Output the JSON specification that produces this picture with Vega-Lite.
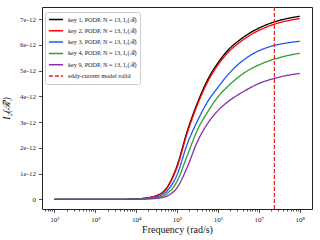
{
  "$schema": "https://vega.github.io/schema/vega-lite/v6.json",
  "autosize": "none",
  "width": 270,
  "height": 202,
  "padding": {"left": 42, "top": 7, "right": 8, "bottom": 31},
  "background": "white",
  "config": {
    "font": "Liberation Serif",
    "view": {"stroke": "#222", "strokeWidth": 1},
    "axis": {"grid": false, "domain": false, "tickColor": "#222", "labelColor": "#222", "titleColor": "#111", "labelFont": "Liberation Serif", "titleFont": "Liberation Serif", "labelFontSize": 7, "titleFontWeight": "normal"}
  },
  "datasets": {
    "curves": [
      {"f": 100, "v": 0, "s": "key 1, PODP, N = 13, I₂(ℛ̃)"},
      {"f": 1000, "v": 0, "s": "key 1, PODP, N = 13, I₂(ℛ̃)"},
      {"f": 3162, "v": 0.002e-12, "s": "key 1, PODP, N = 13, I₂(ℛ̃)"},
      {"f": 10000, "v": 0.02e-12, "s": "key 1, PODP, N = 13, I₂(ℛ̃)"},
      {"f": 17783, "v": 0.06e-12, "s": "key 1, PODP, N = 13, I₂(ℛ̃)"},
      {"f": 31623, "v": 0.15e-12, "s": "key 1, PODP, N = 13, I₂(ℛ̃)"},
      {"f": 56234, "v": 0.45e-12, "s": "key 1, PODP, N = 13, I₂(ℛ̃)"},
      {"f": 100000, "v": 1.3e-12, "s": "key 1, PODP, N = 13, I₂(ℛ̃)"},
      {"f": 177828, "v": 2.65e-12, "s": "key 1, PODP, N = 13, I₂(ℛ̃)"},
      {"f": 316228, "v": 3.75e-12, "s": "key 1, PODP, N = 13, I₂(ℛ̃)"},
      {"f": 562341, "v": 4.65e-12, "s": "key 1, PODP, N = 13, I₂(ℛ̃)"},
      {"f": 1000000, "v": 5.3e-12, "s": "key 1, PODP, N = 13, I₂(ℛ̃)"},
      {"f": 1778279, "v": 5.8e-12, "s": "key 1, PODP, N = 13, I₂(ℛ̃)"},
      {"f": 3162278, "v": 6.15e-12, "s": "key 1, PODP, N = 13, I₂(ℛ̃)"},
      {"f": 5623413, "v": 6.43e-12, "s": "key 1, PODP, N = 13, I₂(ℛ̃)"},
      {"f": 10000000, "v": 6.65e-12, "s": "key 1, PODP, N = 13, I₂(ℛ̃)"},
      {"f": 17782794, "v": 6.82e-12, "s": "key 1, PODP, N = 13, I₂(ℛ̃)"},
      {"f": 31622777, "v": 6.95e-12, "s": "key 1, PODP, N = 13, I₂(ℛ̃)"},
      {"f": 56234133, "v": 7.04e-12, "s": "key 1, PODP, N = 13, I₂(ℛ̃)"},
      {"f": 100000000, "v": 7.11e-12, "s": "key 1, PODP, N = 13, I₂(ℛ̃)"},

      {"f": 100, "v": 0, "s": "key 2, PODP, N = 13, I₂(ℛ̃)"},
      {"f": 1000, "v": 0, "s": "key 2, PODP, N = 13, I₂(ℛ̃)"},
      {"f": 3162, "v": 0.002e-12, "s": "key 2, PODP, N = 13, I₂(ℛ̃)"},
      {"f": 10000, "v": 0.02e-12, "s": "key 2, PODP, N = 13, I₂(ℛ̃)"},
      {"f": 17783, "v": 0.057e-12, "s": "key 2, PODP, N = 13, I₂(ℛ̃)"},
      {"f": 31623, "v": 0.14e-12, "s": "key 2, PODP, N = 13, I₂(ℛ̃)"},
      {"f": 56234, "v": 0.43e-12, "s": "key 2, PODP, N = 13, I₂(ℛ̃)"},
      {"f": 100000, "v": 1.25e-12, "s": "key 2, PODP, N = 13, I₂(ℛ̃)"},
      {"f": 177828, "v": 2.58e-12, "s": "key 2, PODP, N = 13, I₂(ℛ̃)"},
      {"f": 316228, "v": 3.68e-12, "s": "key 2, PODP, N = 13, I₂(ℛ̃)"},
      {"f": 562341, "v": 4.57e-12, "s": "key 2, PODP, N = 13, I₂(ℛ̃)"},
      {"f": 1000000, "v": 5.22e-12, "s": "key 2, PODP, N = 13, I₂(ℛ̃)"},
      {"f": 1778279, "v": 5.71e-12, "s": "key 2, PODP, N = 13, I₂(ℛ̃)"},
      {"f": 3162278, "v": 6.06e-12, "s": "key 2, PODP, N = 13, I₂(ℛ̃)"},
      {"f": 5623413, "v": 6.34e-12, "s": "key 2, PODP, N = 13, I₂(ℛ̃)"},
      {"f": 10000000, "v": 6.56e-12, "s": "key 2, PODP, N = 13, I₂(ℛ̃)"},
      {"f": 17782794, "v": 6.73e-12, "s": "key 2, PODP, N = 13, I₂(ℛ̃)"},
      {"f": 31622777, "v": 6.86e-12, "s": "key 2, PODP, N = 13, I₂(ℛ̃)"},
      {"f": 56234133, "v": 6.95e-12, "s": "key 2, PODP, N = 13, I₂(ℛ̃)"},
      {"f": 100000000, "v": 7.02e-12, "s": "key 2, PODP, N = 13, I₂(ℛ̃)"},

      {"f": 100, "v": 0, "s": "key 3, PODP, N = 13, I₂(ℛ̃)"},
      {"f": 1000, "v": 0, "s": "key 3, PODP, N = 13, I₂(ℛ̃)"},
      {"f": 3162, "v": 0.001e-12, "s": "key 3, PODP, N = 13, I₂(ℛ̃)"},
      {"f": 10000, "v": 0.015e-12, "s": "key 3, PODP, N = 13, I₂(ℛ̃)"},
      {"f": 17783, "v": 0.04e-12, "s": "key 3, PODP, N = 13, I₂(ℛ̃)"},
      {"f": 31623, "v": 0.1e-12, "s": "key 3, PODP, N = 13, I₂(ℛ̃)"},
      {"f": 56234, "v": 0.32e-12, "s": "key 3, PODP, N = 13, I₂(ℛ̃)"},
      {"f": 100000, "v": 0.95e-12, "s": "key 3, PODP, N = 13, I₂(ℛ̃)"},
      {"f": 177828, "v": 2.15e-12, "s": "key 3, PODP, N = 13, I₂(ℛ̃)"},
      {"f": 316228, "v": 3.05e-12, "s": "key 3, PODP, N = 13, I₂(ℛ̃)"},
      {"f": 562341, "v": 3.8e-12, "s": "key 3, PODP, N = 13, I₂(ℛ̃)"},
      {"f": 1000000, "v": 4.35e-12, "s": "key 3, PODP, N = 13, I₂(ℛ̃)"},
      {"f": 1778279, "v": 4.85e-12, "s": "key 3, PODP, N = 13, I₂(ℛ̃)"},
      {"f": 3162278, "v": 5.25e-12, "s": "key 3, PODP, N = 13, I₂(ℛ̃)"},
      {"f": 5623413, "v": 5.55e-12, "s": "key 3, PODP, N = 13, I₂(ℛ̃)"},
      {"f": 10000000, "v": 5.77e-12, "s": "key 3, PODP, N = 13, I₂(ℛ̃)"},
      {"f": 17782794, "v": 5.92e-12, "s": "key 3, PODP, N = 13, I₂(ℛ̃)"},
      {"f": 31622777, "v": 6.02e-12, "s": "key 3, PODP, N = 13, I₂(ℛ̃)"},
      {"f": 56234133, "v": 6.09e-12, "s": "key 3, PODP, N = 13, I₂(ℛ̃)"},
      {"f": 100000000, "v": 6.14e-12, "s": "key 3, PODP, N = 13, I₂(ℛ̃)"},

      {"f": 100, "v": 0, "s": "key 4, PODP, N = 13, I₂(ℛ̃)"},
      {"f": 1000, "v": 0, "s": "key 4, PODP, N = 13, I₂(ℛ̃)"},
      {"f": 3162, "v": 0.001e-12, "s": "key 4, PODP, N = 13, I₂(ℛ̃)"},
      {"f": 10000, "v": 0.01e-12, "s": "key 4, PODP, N = 13, I₂(ℛ̃)"},
      {"f": 17783, "v": 0.03e-12, "s": "key 4, PODP, N = 13, I₂(ℛ̃)"},
      {"f": 31623, "v": 0.07e-12, "s": "key 4, PODP, N = 13, I₂(ℛ̃)"},
      {"f": 56234, "v": 0.22e-12, "s": "key 4, PODP, N = 13, I₂(ℛ̃)"},
      {"f": 100000, "v": 0.7e-12, "s": "key 4, PODP, N = 13, I₂(ℛ̃)"},
      {"f": 177828, "v": 1.7e-12, "s": "key 4, PODP, N = 13, I₂(ℛ̃)"},
      {"f": 316228, "v": 2.7e-12, "s": "key 4, PODP, N = 13, I₂(ℛ̃)"},
      {"f": 562341, "v": 3.4e-12, "s": "key 4, PODP, N = 13, I₂(ℛ̃)"},
      {"f": 1000000, "v": 3.98e-12, "s": "key 4, PODP, N = 13, I₂(ℛ̃)"},
      {"f": 1778279, "v": 4.4e-12, "s": "key 4, PODP, N = 13, I₂(ℛ̃)"},
      {"f": 3162278, "v": 4.75e-12, "s": "key 4, PODP, N = 13, I₂(ℛ̃)"},
      {"f": 5623413, "v": 5.02e-12, "s": "key 4, PODP, N = 13, I₂(ℛ̃)"},
      {"f": 10000000, "v": 5.22e-12, "s": "key 4, PODP, N = 13, I₂(ℛ̃)"},
      {"f": 17782794, "v": 5.38e-12, "s": "key 4, PODP, N = 13, I₂(ℛ̃)"},
      {"f": 31622777, "v": 5.5e-12, "s": "key 4, PODP, N = 13, I₂(ℛ̃)"},
      {"f": 56234133, "v": 5.6e-12, "s": "key 4, PODP, N = 13, I₂(ℛ̃)"},
      {"f": 100000000, "v": 5.67e-12, "s": "key 4, PODP, N = 13, I₂(ℛ̃)"},

      {"f": 100, "v": 0, "s": "key 9, PODP, N = 13, I₂(ℛ̃)"},
      {"f": 1000, "v": 0, "s": "key 9, PODP, N = 13, I₂(ℛ̃)"},
      {"f": 3162, "v": 0.0005e-12, "s": "key 9, PODP, N = 13, I₂(ℛ̃)"},
      {"f": 10000, "v": 0.006e-12, "s": "key 9, PODP, N = 13, I₂(ℛ̃)"},
      {"f": 17783, "v": 0.017e-12, "s": "key 9, PODP, N = 13, I₂(ℛ̃)"},
      {"f": 31623, "v": 0.04e-12, "s": "key 9, PODP, N = 13, I₂(ℛ̃)"},
      {"f": 56234, "v": 0.13e-12, "s": "key 9, PODP, N = 13, I₂(ℛ̃)"},
      {"f": 100000, "v": 0.45e-12, "s": "key 9, PODP, N = 13, I₂(ℛ̃)"},
      {"f": 177828, "v": 1.25e-12, "s": "key 9, PODP, N = 13, I₂(ℛ̃)"},
      {"f": 316228, "v": 2.25e-12, "s": "key 9, PODP, N = 13, I₂(ℛ̃)"},
      {"f": 562341, "v": 2.95e-12, "s": "key 9, PODP, N = 13, I₂(ℛ̃)"},
      {"f": 1000000, "v": 3.45e-12, "s": "key 9, PODP, N = 13, I₂(ℛ̃)"},
      {"f": 1778279, "v": 3.8e-12, "s": "key 9, PODP, N = 13, I₂(ℛ̃)"},
      {"f": 3162278, "v": 4.07e-12, "s": "key 9, PODP, N = 13, I₂(ℛ̃)"},
      {"f": 5623413, "v": 4.3e-12, "s": "key 9, PODP, N = 13, I₂(ℛ̃)"},
      {"f": 10000000, "v": 4.5e-12, "s": "key 9, PODP, N = 13, I₂(ℛ̃)"},
      {"f": 17782794, "v": 4.64e-12, "s": "key 9, PODP, N = 13, I₂(ℛ̃)"},
      {"f": 31622777, "v": 4.75e-12, "s": "key 9, PODP, N = 13, I₂(ℛ̃)"},
      {"f": 56234133, "v": 4.83e-12, "s": "key 9, PODP, N = 13, I₂(ℛ̃)"},
      {"f": 100000000, "v": 4.89e-12, "s": "key 9, PODP, N = 13, I₂(ℛ̃)"}
    ],
    "limit": [
      {"f": 24000000, "s": "eddy-current model valid"}
    ]
  },
  "layer": [
    {
      "data": {"name": "curves"},
      "mark": {"type": "line", "strokeWidth": 1.3, "interpolate": "monotone", "clip": true},
      "encoding": {
        "x": {"field": "f", "type": "quantitative", "scale": {"type": "log", "domain": [50.1, 199526231], "nice": false},
          "axis": {"title": "Frequency (rad/s)", "titleFontSize": 10, "titlePadding": 2, "tickSize": {"condition": {"test": "abs(log(datum.value)/LN10 - round(log(datum.value)/LN10)) < 0.000001", "value": 3.5}, "value": 2}, "tickWidth": 0.8,
            "values": [60,70,80,90,100,200,300,400,500,600,700,800,900,1000,2000,3000,4000,5000,6000,7000,8000,9000,10000,20000,30000,40000,50000,60000,70000,80000,90000,100000,200000,300000,400000,500000,600000,700000,800000,900000,1000000,2000000,3000000,4000000,5000000,6000000,7000000,8000000,9000000,10000000,20000000,30000000,40000000,50000000,60000000,70000000,80000000,90000000,100000000,200000000],
            "labelExpr": "abs(log(datum.value)/LN10 - round(log(datum.value)/LN10)) < 0.000001 ? '10' + ['⁰','¹','²','³','⁴','⁵','⁶','⁷','⁸','⁹'][round(log(datum.value)/LN10)] : ''",
            "labelFontSize": 7, "labelPadding": 3}},
        "y": {"field": "v", "type": "quantitative", "scale": {"domain": [-0.37e-12, 7.47e-12], "nice": false, "zero": false},
          "axis": {"title": "I₂(ℛ̃)", "titleFontSize": 10, "titleFontStyle": "italic", "titlePadding": 8, "values": [0, 1e-12, 2e-12, 3e-12, 4e-12, 5e-12, 6e-12, 7e-12], "tickSize": 3.5, "tickWidth": 0.8,
            "labelExpr": "datum.value == 0 ? '0' : format(datum.value, '.0e')", "labelFontSize": 7, "labelPadding": 3}},
        "color": {"field": "s", "type": "nominal", "scale": {"domain": ["key 1, PODP, N = 13, I₂(ℛ̃)", "key 2, PODP, N = 13, I₂(ℛ̃)", "key 3, PODP, N = 13, I₂(ℛ̃)", "key 4, PODP, N = 13, I₂(ℛ̃)", "key 9, PODP, N = 13, I₂(ℛ̃)", "eddy-current model valid"], "range": ["#000000", "#ff0000", "#1f57f5", "#2ca02c", "#8a2fb0", "#ee2222"]},
          "legend": {"title": null, "orient": "none", "legendX": 3, "legendY": 5, "symbolType": "stroke", "symbolStrokeWidth": 1.5, "symbolSize": 200, "clipHeight": 9, "labelFontSize": 6.2, "labelFont": "Liberation Serif", "rowPadding": 2.3, "padding": 3, "strokeColor": "#cccccc", "fillColor": "white", "cornerRadius": 2, "labelOffset": 4, "labelColor": "#222"}},
        "strokeDash": {"field": "s", "type": "nominal", "scale": {"domain": ["key 1, PODP, N = 13, I₂(ℛ̃)", "key 2, PODP, N = 13, I₂(ℛ̃)", "key 3, PODP, N = 13, I₂(ℛ̃)", "key 4, PODP, N = 13, I₂(ℛ̃)", "key 9, PODP, N = 13, I₂(ℛ̃)", "eddy-current model valid"], "range": [[1,0],[1,0],[1,0],[1,0],[1,0],[4,2]]},
          "legend": {"title": null, "orient": "none", "legendX": 3, "legendY": 5}}
      }
    },
    {
      "data": {"name": "limit"},
      "mark": {"type": "rule", "strokeWidth": 1.2},
      "encoding": {
        "x": {"field": "f", "type": "quantitative"},
        "color": {"field": "s", "type": "nominal"},
        "strokeDash": {"field": "s", "type": "nominal"}
      }
    }
  ]
}
